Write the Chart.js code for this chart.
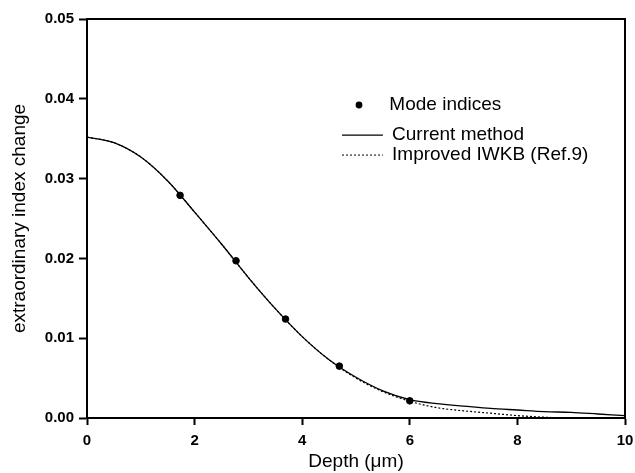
<!DOCTYPE html>
<html>
<head>
<meta charset="utf-8">
<script src="https://cdn.jsdelivr.net/npm/chart.js@4.4.1/dist/chart.umd.min.js"></script>
<style>
  html, body { margin: 0; padding: 0; background: #fff; }
  #wrap { width: 635px; height: 473px; position: relative; }
</style>
</head>
<body>
<div id="wrap"><canvas id="c" width="635" height="473"></canvas></div>
<script>
// Mode indices (measured points)
const modeDepth = [1.73, 2.77, 3.69, 4.69, 6.0];
const modeIndex = [0.0279, 0.0197, 0.0124, 0.0065, 0.00215];

// Curves sampled along depth
const curveDepth = [0, 0.5, 1.0, 1.5, 2.0, 2.5, 3.0, 3.5, 4.0, 4.5, 5.0, 5.5, 6.0, 6.5, 7.0, 7.5, 8.0, 8.5, 9.0, 9.5, 10];
const currentMethod = [0.0352, 0.0345, 0.0327, 0.0297, 0.0258, 0.0218, 0.0176, 0.0137, 0.0102, 0.0073, 0.0051, 0.0034, 0.0023, 0.0018, 0.0015, 0.0012, 0.0010, 0.0008, 0.0007, 0.0005, 0.0003];
const improvedIWKB = [0.0352, 0.0345, 0.0327, 0.0297, 0.0258, 0.0218, 0.0176, 0.0137, 0.0102, 0.0073, 0.0050, 0.0033, 0.0021, 0.0013, 0.0009, 0.0006, 0.0003, 0.0001, 0.0000, 0.0000, 0.0000];

const xTicks = [0, 2, 4, 6, 8, 10];
const yTicks = [0.00, 0.01, 0.02, 0.03, 0.04, 0.05];

const seriesNames = ['Mode indices', 'Current method', 'Improved IWKB (Ref.9)'];
const xTitle = 'Depth (\u03BCm)';
const yTitle = 'extraordinary index change';

const FONT = '"Liberation Sans", Arial, Helvetica, sans-serif';

const toXY = (xs, ys) => xs.map((x, i) => ({ x: x, y: ys[i] }));

const frame = {
  id: 'frame',
  afterDatasetsDraw(chart) {
    const { ctx, chartArea: a } = chart;
    ctx.save();
    ctx.strokeStyle = '#000';
    ctx.lineWidth = 2;
    ctx.strokeRect(a.left, a.top, a.right - a.left, a.bottom - a.top);
    ctx.restore();
  }
};

const legendBox = {
  id: 'legendBox',
  afterDraw(chart) {
    const { ctx, chartArea: a } = chart;
    const w = a.right - a.left, h = a.bottom - a.top;
    const lx0 = a.left + w * 0.474, lx1 = a.left + w * 0.55;
    const tx = a.left + w * 0.567;
    const rows = [a.top + h * 0.2155, a.top + h * 0.291, a.top + h * 0.341];
    ctx.save();
    ctx.fillStyle = '#000';
    ctx.strokeStyle = '#000';
    ctx.font = '19px ' + FONT;
    ctx.textBaseline = 'middle';
    ctx.textAlign = 'left';
    // Mode indices
    ctx.beginPath();
    ctx.arc(a.left + w * 0.5056, rows[0], 3.4, 0, Math.PI * 2);
    ctx.fill();
    ctx.fillText(seriesNames[0], a.left + w * 0.562, rows[0]);
    // Current method
    ctx.lineWidth = 1.3;
    ctx.beginPath();
    ctx.moveTo(lx0, rows[1]); ctx.lineTo(lx1, rows[1]); ctx.stroke();
    ctx.fillText(seriesNames[1], tx, rows[1]);
    // Improved IWKB
    ctx.lineWidth = 1;
    ctx.setLineDash([2, 2]);
    ctx.beginPath();
    ctx.moveTo(lx0, rows[2]); ctx.lineTo(lx1, rows[2]); ctx.stroke();
    ctx.setLineDash([]);
    ctx.fillText(seriesNames[2], tx, rows[2]);
    ctx.restore();
  }
};

new Chart(document.getElementById('c'), {
  type: 'scatter',
  data: {
    datasets: [
      {
        label: seriesNames[2],
        data: toXY(curveDepth, improvedIWKB),
        showLine: true,
        borderColor: '#000',
        borderWidth: 1.2,
        borderDash: [2, 2],
        pointRadius: 0,
        cubicInterpolationMode: 'monotone',
        order: 3
      },
      {
        label: seriesNames[1],
        data: toXY(curveDepth, currentMethod),
        showLine: true,
        borderColor: '#000',
        borderWidth: 1.3,
        pointRadius: 0,
        cubicInterpolationMode: 'monotone',
        order: 2
      },
      {
        label: seriesNames[0],
        data: toXY(modeDepth, modeIndex),
        showLine: false,
        backgroundColor: '#000',
        borderColor: '#000',
        pointRadius: 3.3,
        pointStyle: 'circle',
        order: 1
      }
    ]
  },
  options: {
    responsive: false,
    animation: false,
    layout: { padding: { left: 0, right: 10, top: 19, bottom: 0 } },
    plugins: {
      legend: { display: false },
      tooltip: { enabled: false }
    },
    scales: {
      x: {
        type: 'linear',
        min: 0, max: 10,
        afterBuildTicks(scale) { scale.ticks = xTicks.map(v => ({ value: v })); },
        afterFit(scale) { scale.height = 55; scale.paddingLeft = 0; scale.paddingRight = 0; },
        grid: { drawOnChartArea: false, drawTicks: true, tickLength: 7, tickWidth: 2, tickColor: '#000' },
        border: { display: true, color: '#000', width: 2 },
        ticks: {
          color: '#000',
          padding: 7,
          maxRotation: 0,
          font: { family: FONT, size: 15, weight: 'bold' },
          callback: v => String(v)
        },
        title: {
          display: true,
          text: xTitle,
          color: '#000',
          font: { family: FONT, size: 19 },
          padding: { top: 0, bottom: 0 }
        }
      },
      y: {
        type: 'linear',
        min: 0, max: 0.05,
        afterBuildTicks(scale) { scale.ticks = yTicks.map(v => ({ value: v })); },
        afterFit(scale) { scale.width = 87; scale.paddingTop = 0; scale.paddingBottom = 0; },
        grid: { drawOnChartArea: false, drawTicks: true, tickLength: 8, tickWidth: 2, tickColor: '#000' },
        border: { display: true, color: '#000', width: 2 },
        ticks: {
          color: '#000',
          padding: 5,
          font: { family: FONT, size: 15, weight: 'bold' },
          callback: v => Number(v).toFixed(2)
        },
        title: {
          display: true,
          text: yTitle,
          color: '#000',
          font: { family: FONT, size: 19 },
          padding: { top: 8, bottom: 0 }
        }
      }
    }
  },
  plugins: [frame, legendBox]
});
</script>
</body>
</html>
